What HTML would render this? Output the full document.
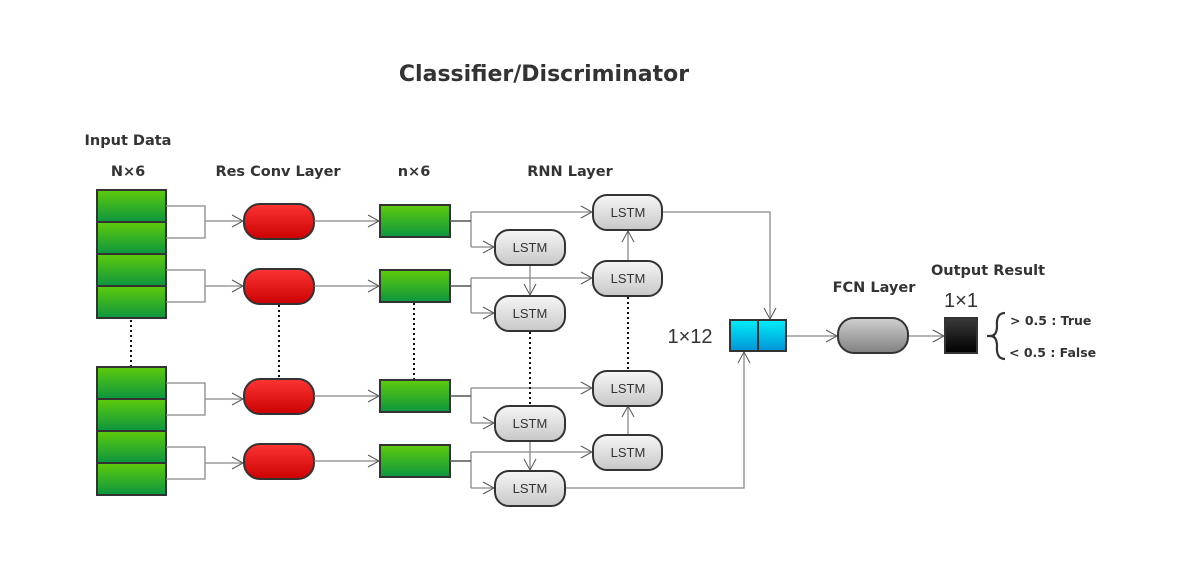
<!DOCTYPE html>
<html><head><meta charset="utf-8"><style>body{margin:0;background:#fff}svg{display:block}</style></head><body>
<svg width="1193" height="568" viewBox="0 0 1193 568" xmlns="http://www.w3.org/2000/svg" font-family="Liberation Sans, DejaVu Sans, sans-serif">
<defs>
<linearGradient id="g" x1="0" y1="0" x2="0" y2="1"><stop offset="0" stop-color="#5ecb0a"/><stop offset="1" stop-color="#0c9640"/></linearGradient>
<linearGradient id="r" x1="0" y1="0" x2="0" y2="1"><stop offset="0" stop-color="#fb3434"/><stop offset="1" stop-color="#cc0202"/></linearGradient>
<linearGradient id="l" x1="0" y1="0" x2="0" y2="1"><stop offset="0" stop-color="#f6f6f6"/><stop offset="1" stop-color="#c8c8c8"/></linearGradient>
<linearGradient id="b" x1="0" y1="0" x2="0" y2="1"><stop offset="0" stop-color="#00eefa"/><stop offset="1" stop-color="#0094d8"/></linearGradient>
<linearGradient id="f" x1="0" y1="0" x2="0" y2="1"><stop offset="0" stop-color="#d0d0d0"/><stop offset="1" stop-color="#808080"/></linearGradient>
<linearGradient id="k" x1="0" y1="0" x2="0" y2="1"><stop offset="0" stop-color="#3a3a3a"/><stop offset="1" stop-color="#000"/></linearGradient>
<marker id="a" markerWidth="14" markerHeight="14" refX="12" refY="7" orient="auto" markerUnits="userSpaceOnUse"><path d="M1,1 L12,7 L1,13" fill="none" stroke="#555" stroke-width="1"/></marker>
</defs>
<g font-family="DejaVu Sans, Liberation Sans, sans-serif" font-weight="bold" fill="#333" text-anchor="middle">
<text x="544" y="81" font-size="22">Classifier/Discriminator</text>
<g font-size="14.5">
<text x="128" y="145">Input Data</text><text x="128" y="176">N×6</text>
<text x="278" y="176">Res Conv Layer</text><text x="414" y="176">n×6</text>
<text x="570" y="176">RNN Layer</text><text x="874" y="292">FCN Layer</text>
<text x="988" y="275">Output Result</text></g></g>
<g stroke="#333" stroke-width="2" fill="url(#g)">
<rect x="97" y="190" width="69" height="32"/><rect x="97" y="222" width="69" height="32"/><rect x="97" y="254" width="69" height="32"/><rect x="97" y="286" width="69" height="32"/>
<rect x="97" y="367" width="69" height="32"/><rect x="97" y="399" width="69" height="32"/><rect x="97" y="431" width="69" height="32"/><rect x="97" y="463" width="69" height="32"/>
<rect x="380" y="205" width="70" height="32"/><rect x="380" y="270" width="70" height="32"/><rect x="380" y="380" width="70" height="32"/><rect x="380" y="445" width="70" height="32"/>
</g>
<g stroke="#333" stroke-width="2" fill="url(#r)">
<rect x="244" y="204" width="70" height="35" rx="16"/><rect x="244" y="269" width="70" height="35" rx="16"/><rect x="244" y="379" width="70" height="35" rx="16"/><rect x="244" y="444" width="70" height="35" rx="16"/>
</g>
<g fill="none" stroke="#888" stroke-width="1.3">
<path d="M166,206H205V238H166M205,221H243" marker-end="url(#a)"/>
<path d="M166,270H205V302H166M205,286H243" marker-end="url(#a)"/>
<path d="M166,383H205V415H166M205,399H243" marker-end="url(#a)"/>
<path d="M166,447H205V479H166M205,463H243" marker-end="url(#a)"/>
<path d="M314,221H379" marker-end="url(#a)"/><path d="M314,286H379" marker-end="url(#a)"/><path d="M314,396H379" marker-end="url(#a)"/><path d="M314,461H379" marker-end="url(#a)"/>
<path d="M471,212V247"/><path d="M471,212H592" marker-end="url(#a)"/><path d="M471,247H494" marker-end="url(#a)"/>
<path d="M471,278V313"/><path d="M471,278H592" marker-end="url(#a)"/><path d="M471,313H494" marker-end="url(#a)"/>
<path d="M471,388V423"/><path d="M471,388H592" marker-end="url(#a)"/><path d="M471,423H494" marker-end="url(#a)"/>
<path d="M471,452V488"/><path d="M471,452H592" marker-end="url(#a)"/><path d="M471,488H494" marker-end="url(#a)"/>
<path d="M530,265V295" marker-end="url(#a)"/><path d="M530,441V470" marker-end="url(#a)"/>
<path d="M628,261V231" marker-end="url(#a)"/><path d="M628,435V406" marker-end="url(#a)"/>
<path d="M662,212H770V319" marker-end="url(#a)"/><path d="M565,488H744V352" marker-end="url(#a)"/>
<path d="M786,336H837" marker-end="url(#a)"/><path d="M908,336H944" marker-end="url(#a)"/>
</g>
<g stroke="#555" stroke-width="1.6"><path d="M450,221H471M450,286H471M450,396H471M450,461H471"/></g>
<g stroke="#111" stroke-width="2" stroke-dasharray="2,3">
<path d="M131,320V366M279,305V378M414,303V379M530,332V405M628,297V370"/>
</g>
<g stroke="#333" stroke-width="2" fill="url(#l)">
<rect x="593" y="195" width="69" height="35" rx="14"/><rect x="593" y="261" width="69" height="35" rx="14"/><rect x="593" y="371" width="69" height="35" rx="14"/><rect x="593" y="435" width="69" height="35" rx="14"/>
<rect x="495" y="230" width="70" height="35" rx="14"/><rect x="495" y="296" width="70" height="35" rx="14"/><rect x="495" y="406" width="70" height="35" rx="14"/><rect x="495" y="471" width="70" height="35" rx="14"/>
</g>
<g font-size="13" fill="#333" text-anchor="middle">
<text x="628" y="217">LSTM</text><text x="628" y="283">LSTM</text><text x="628" y="393">LSTM</text><text x="628" y="457">LSTM</text>
<text x="530" y="252">LSTM</text><text x="530" y="318">LSTM</text><text x="530" y="428">LSTM</text><text x="530" y="493">LSTM</text>
</g>
<rect x="730" y="320" width="56" height="31" fill="url(#b)" stroke="#333" stroke-width="2"/><path d="M758,320V351" stroke="#333" stroke-width="2"/>
<text x="690" y="343" font-size="20" fill="#333" text-anchor="middle">1×12</text>
<rect x="838" y="318" width="70" height="35" rx="16" fill="url(#f)" stroke="#333" stroke-width="2"/>
<rect x="945" y="318" width="32" height="35" fill="url(#k)" stroke="#333" stroke-width="2"/>
<text x="961" y="307" font-size="20" fill="#333" text-anchor="middle">1×1</text>
<path d="M987,336H995M1005,313Q996,313 997,326Q997,336 990,336Q997,336 997,346Q996,359 1005,359" fill="none" stroke="#333" stroke-width="2.2"/>
<g font-size="12.5" font-weight="bold" fill="#333" font-family="DejaVu Sans, Liberation Sans, sans-serif"><text x="1010" y="325">&gt; 0.5 : True</text><text x="1009" y="357">&lt; 0.5 : False</text></g>
</svg>
</body></html>
